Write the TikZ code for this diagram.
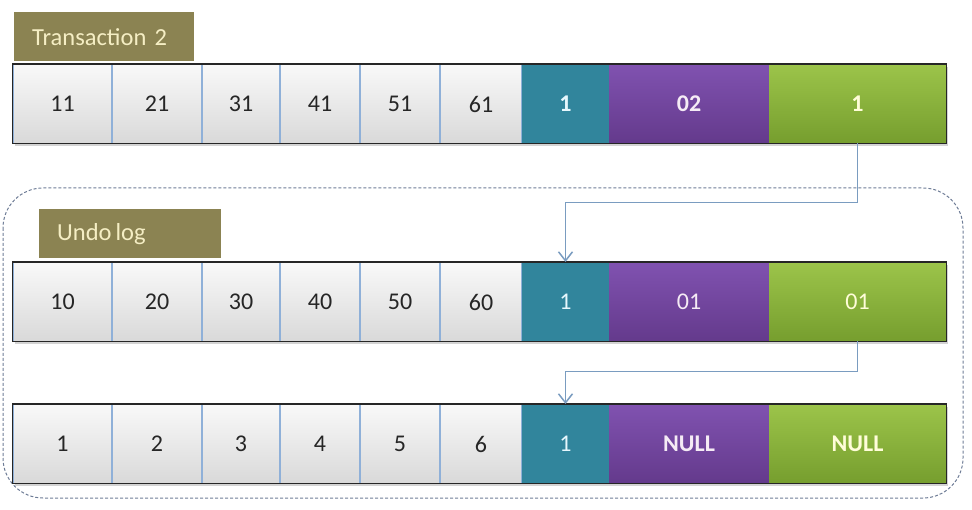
\documentclass[tikz,border=0pt]{standalone}
\usepackage{fontspec}
\setmainfont{Carlito}
\usetikzlibrary{arrows.meta,shadows,backgrounds}

\definecolor{titlebg}{RGB}{139,131,82}
\definecolor{titletext}{RGB}{245,238,196}
\definecolor{tealfill}{RGB}{49,133,156}
\definecolor{purpletop}{RGB}{128,82,176}
\definecolor{purplebot}{RGB}{100,58,140}
\definecolor{greentop}{RGB}{156,196,74}
\definecolor{greenbot}{RGB}{118,158,46}
\definecolor{divider}{RGB}{143,176,216}
\definecolor{linkcol}{RGB}{122,156,192}
\definecolor{framecol}{RGB}{110,124,150}

\def\rowtrx{64}    % top of each row
\def\rowundo{262}
\def\rowold{404}

\begin{document}
\begin{tikzpicture}[x=1pt,y=-1pt,
    cell/.style={minimum height=79pt,inner sep=0pt,anchor=north,
      font=\fontsize{24}{28}\selectfont},
    greycell/.style={cell,top color=gray!5,bottom color=gray!30,
      draw=divider,line width=1.2pt,text=black!85},
    tealcell/.style={cell,fill=tealfill,text=cyan!10},
    purplecell/.style={cell,top color=purpletop,bottom color=purplebot,text=violet!8},
    greencell/.style={cell,top color=greentop,bottom color=greenbot,text=yellow!15},
    titlebox/.style={fill=titlebg,text=titletext,anchor=north west,
      minimum height=49pt,inner xsep=18pt,align=left,
      font=\fontsize{24.5}{28}\selectfont},
    rowshadow/.style={fill=white,drop shadow={shadow xshift=2pt,
      shadow yshift=-3pt,opacity=0.35}},
    rowborder/.style={draw=black!85,line width=1.4pt},
    link/.style={draw=linkcol,line width=1.7pt,
      -{Straight Barb[length=9pt,width=14pt,line width=1.5pt]}}]
  \useasboundingbox (0,0) rectangle (972,510);

  % undo log frame
  \draw[framecol,dashed,dash pattern=on 3pt off 2pt,line width=1pt,
    rounded corners=40pt] (3,188) rectangle (963,498);

  % titles
  \node[titlebox,text width=144pt] (trxtitle) at (14,12) {Transaction 2};
  \node[titlebox,text width=146pt] (undotitle) at (39,209) {Undo\,log};

  % shadows under the rows
  \foreach \ytop in {\rowtrx,\rowundo,\rowold}
    \path[rowshadow] (13,\ytop) rectangle (946,\ytop+79);

  % the three rows, column by column
  \foreach \l/\r/\kind/\a/\b/\c [count=\i] in {
      13/112/greycell/11/10/1,
      112/202/greycell/21/20/2,
      202/280/greycell/31/30/3,
      280/360/greycell/41/40/4,
      360/440/greycell/51/50/5,
      440/522/greycell/61/60/6,
      522/609/tealcell/\textbf{1}/1/1,
      609/769/purplecell/\textbf{02}/01/\textbf{NULL},
      769/946/greencell/\textbf{1}/01/\textbf{NULL}
    } {
      \node[\kind,minimum width={\r-\l}] (trx\i) at ({(\l+\r)/2},\rowtrx) {\a};
      \node[\kind,minimum width={\r-\l}] (undo\i) at ({(\l+\r)/2},\rowundo) {\b};
      \node[\kind,minimum width={\r-\l}] (old\i) at ({(\l+\r)/2},\rowold) {\c};
    };

  % outer borders of the rows
  \draw[rowborder] (trx1.north west) rectangle (trx9.south east);
  \draw[rowborder] (undo1.north west) rectangle (undo9.south east);
  \draw[rowborder] (old1.north west) rectangle (old9.south east);

  % pointers to the older versions
  \draw[link] (trx9.south) -- ++(0,59) -| (undo7.north);
  \draw[link] (undo9.south) -- ++(0,30) -| (old7.north);
\end{tikzpicture}
\end{document}
